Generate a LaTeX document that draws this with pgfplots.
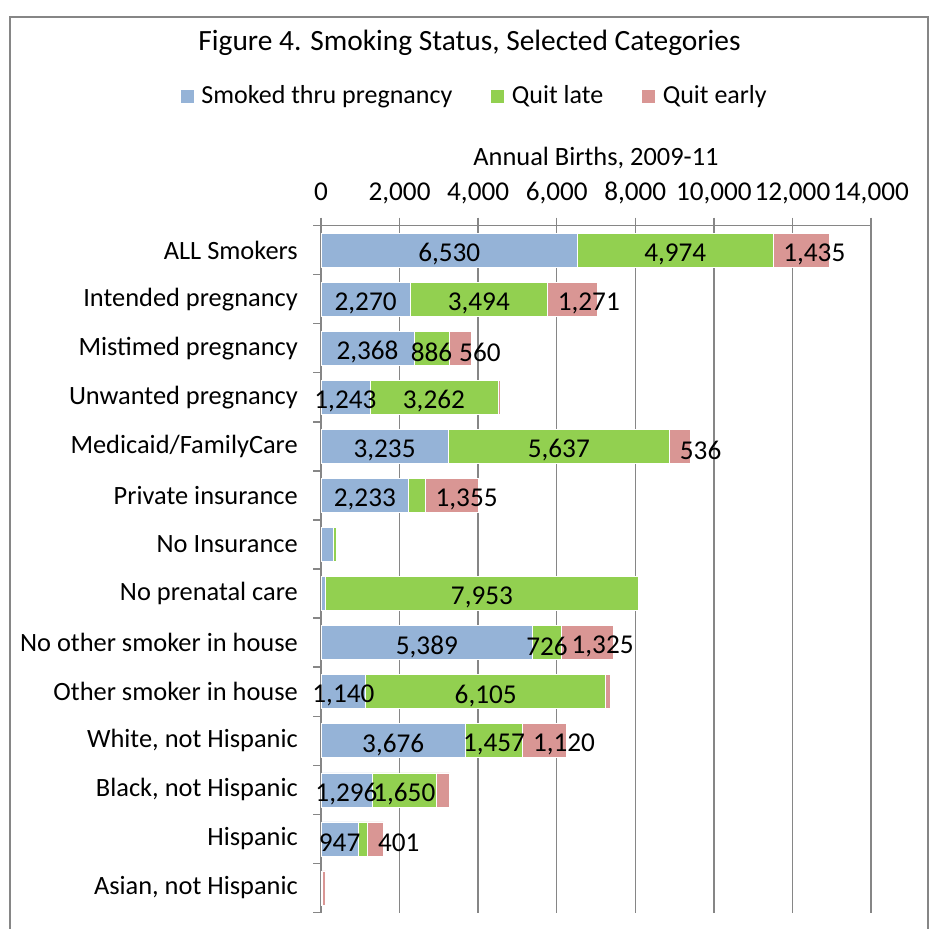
\documentclass[border=0pt]{standalone}
\usepackage{fontspec}
\setmainfont{Carlito}
\usepackage{pgfplots}
\usepackage{pgfplotstable}
\pgfplotsset{compat=1.18}
\pgfkeys{/pgf/number format/.cd, 1000 sep={,}, assume math mode=true}

\definecolor{smokedblue}{RGB}{149,179,215}
\definecolor{quitgreen}{RGB}{146,208,80}
\definecolor{earlyred}{RGB}{217,150,148}
\definecolor{gridgray}{RGB}{134,134,134}

% Annual births by smoking status; row 0 is the top bar.
% *lbl = 1 when the segment carries its value label.
\pgfplotstableread{
idx smoked slbl late llbl early elbl
0  6530 1 4974 1 1435 1
1  2270 1 3494 1 1271 1
2  2368 1  886 1  560 1
3  1243 1 3262 1   65 0
4  3235 1 5637 1  536 1
5  2233 1  420 0 1355 1
6   320 0   60 0   40 0
7   120 0 7953 1    0 0
8  5389 1  726 1 1325 1
9  1140 1 6105 1  110 0
10 3676 1 1457 1 1120 1
11 1296 1 1650 1  320 0
12  947 1  240 0  401 1
13   30 0    5 0   85 0
}\births

\pgfplotsset{
  frame geometry/.style={
    at={(160.5pt,-112.75pt)}, anchor=north west,
    scale only axis, width=275pt, height=343.5pt,
    xmin=0, xmax=14000, ymin=-0.5, ymax=13.5, y dir=reverse,
  },
  seglabel/.style={draw=none, mark=none, point meta=explicit,
    nodes near coords,
    every node near coord/.append style={anchor=center, text=black, inner sep=0pt,
      yshift=-2pt, font=\fontsize{13.6pt}{16pt}\selectfont},
    x filter/.expression={\thisrow{#1}>0 ? x : nan}},
}

\begin{document}
\fontsize{13.2pt}{16pt}\selectfont
\begin{tikzpicture}
\useasboundingbox (0,0) rectangle (465.5pt,-464pt);
\draw[gridgray, line width=0.7pt] (5pt,-8.5pt) rectangle (464pt,-490pt);
\node[font=\fontsize{14.7pt}{17.5pt}\selectfont] at (234.75pt,-21.5pt) {Figure 4. Smoking Status, Selected Categories};

% stacked bars, axes, grid and legend
\begin{axis}[
  frame geometry,
  xbar stacked, bar width=17pt,
  xtick={0,2000,...,14000},
  scaled x ticks=false,
  ytick={0,...,13},
  yticklabels={ALL Smokers, Intended pregnancy, Mistimed pregnancy, Unwanted pregnancy,
    Medicaid/FamilyCare, Private insurance, No Insurance, No prenatal care,
    No other smoker in house, Other smoker in house, {White, not Hispanic},
    {Black, not Hispanic}, Hispanic, {Asian, not Hispanic}},
  minor ytick={-0.5,0.5,...,13.5},
  axis x line*=top, axis y line*=left,
  xmajorgrids, grid style={gridgray, line width=0.7pt},
  axis line style={gridgray, line width=0.9pt},
  tick align=outside, major tick length=4pt, minor tick length=4pt,
  tick style={gridgray, line width=0.7pt},
  every major y tick/.append style={draw=none},
  xticklabel style={font=\fontsize{13.6pt}{16pt}\selectfont, text depth=0.25em, yshift=0.5pt},
  xlabel={Annual Births, 2009-11},
  xlabel style={inner sep=0pt, yshift=2pt},
  yticklabel style={anchor=east, xshift=-3pt},
  legend style={at={(0.2805,1.1885)}, anchor=center, draw=none, fill=none,
    legend columns=3, font=\fontsize{13pt}{16pt}\selectfont,
    /tikz/every odd column/.append style={column sep=1.5pt},
    /tikz/every even column/.append style={column sep=17pt}},
  legend image code/.code={\fill[#1] (0pt,-3.5pt) rectangle (7pt,3.5pt);},
]
\addplot[fill=smokedblue, draw=white, line width=0.3pt] table[x=smoked, y=idx] {\births};
\addplot[fill=quitgreen, draw=white, line width=0.3pt] table[x=late, y=idx] {\births};
\addplot[fill=earlyred, draw=white, line width=0.3pt] table[x=early, y=idx] {\births};
\legend{Smoked thru pregnancy, Quit late, Quit early}
\end{axis}

% value labels: centred in the first two segments, set from the start of the last
\begin{axis}[frame geometry, hide axis, clip=false]
\addplot[seglabel=slbl] table[x expr={\thisrow{smoked}/2}, y=idx, meta=smoked] {\births};
\addplot[seglabel=llbl] table[x expr={\thisrow{smoked}+\thisrow{late}/2}, y=idx, meta=late] {\births};
\addplot[seglabel=elbl, every node near coord/.append style={anchor=west, xshift=5pt}]
  table[x expr={\thisrow{smoked}+\thisrow{late}}, y=idx, meta=early] {\births};
\end{axis}
\end{tikzpicture}
\end{document}
